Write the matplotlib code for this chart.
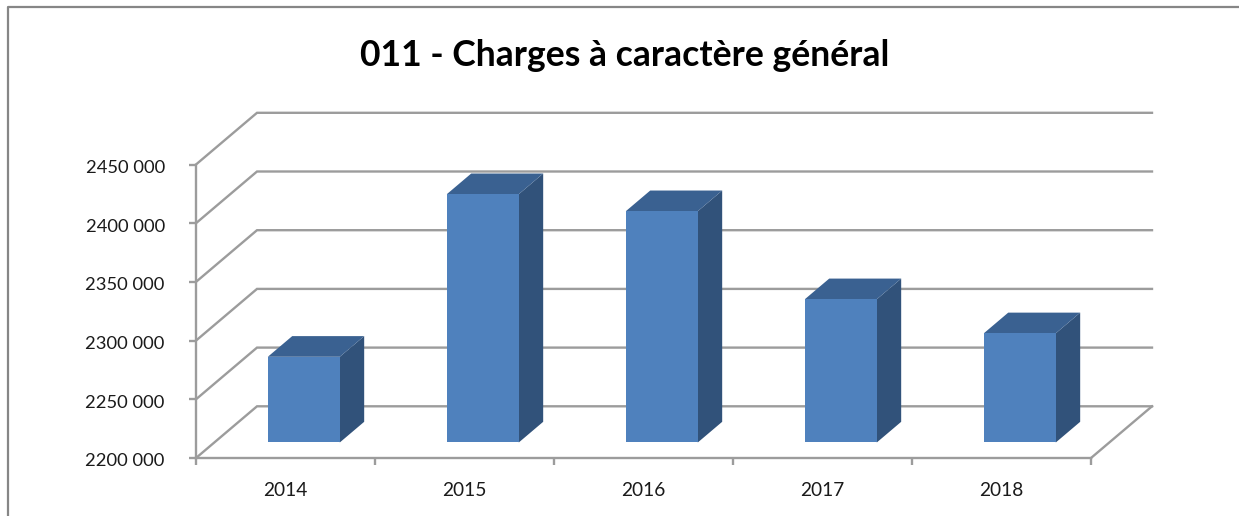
import matplotlib
matplotlib.use("Agg")
import matplotlib.pyplot as plt
from matplotlib.lines import Line2D
from matplotlib.patches import Polygon
from matplotlib.transforms import ScaledTranslation

title = "011 - Charges à caractère général"
years = ["2014", "2015", "2016", "2017", "2018"]
values = [2273000, 2411500, 2397000, 2322000, 2293000]
y_ticks = [2200000, 2250000, 2300000, 2350000, 2400000, 2450000]
y_labels = ["2200 000", "2250 000", "2300 000", "2350 000", "2400 000", "2450 000"]

W, H = 1239, 516
GRID = "#9c9c9c"
FRAME = "#868686"
FRONT = "#4f81bd"
SIDE = "#31527a"
TOP = "#3a6191"

fig = plt.figure(figsize=(W / 100, H / 100), dpi=100, facecolor="white")
ax = fig.add_axes([196 / W, (H - 458) / H, 895 / W, 293.5 / H])
ax.set_xlim(0, len(years))
ax.set_ylim(y_ticks[0], y_ticks[-1])
ax.patch.set_visible(False)

DX = 61 / 179.0
DY = 51.7 / 58.7 * 50000


def proj(x, y, d):
    return (x + d * DX, y + d * DY)


# walls and floor
n = len(years)
base = y_ticks[0]
LW = 1.7
for v in y_ticks:
    ax.plot(*zip(proj(0, v, 0), proj(0, v, 1), proj(n, v, 1)),
            color=GRID, lw=LW, clip_on=False, zorder=1, solid_joinstyle="miter")
ax.plot(*zip(proj(n, base, 0), proj(n, base, 1)), color=GRID, lw=LW, clip_on=False, zorder=1)

# 3-D bars
D0, D1 = 0.30, 0.70
BW = 0.402
for i, v in enumerate(values):
    l, r = i + 0.5 - BW / 2, i + 0.5 + BW / 2
    ax.add_patch(Polygon([proj(r, base, D0), proj(r, base, D1), proj(r, v, D1), proj(r, v, D0)],
                         fc=SIDE, ec="none", clip_on=False, zorder=3))
    ax.add_patch(Polygon([proj(l, v, D0), proj(r, v, D0), proj(r, v, D1), proj(l, v, D1)],
                         fc=TOP, ec="none", clip_on=False, zorder=3))
    ax.add_patch(Polygon([proj(l, base, D0), proj(r, base, D0), proj(r, v, D0), proj(l, v, D0)],
                         fc=FRONT, ec="none", clip_on=False, zorder=4))

for s in ("top", "right"):
    ax.spines[s].set_visible(False)
for s in ("left", "bottom"):
    ax.spines[s].set_color(GRID)
    ax.spines[s].set_linewidth(LW)

ax.set_yticks(y_ticks)
ax.set_yticklabels(y_labels, family="Lato", fontsize=13.2, color="#1a1a1a")
ax.set_xticks(range(n + 1))
ax.set_xticklabels([])
ax.set_xticks([i + 0.5 for i in range(n)], minor=True)
ax.set_xticklabels(years, minor=True, family="Lato", fontsize=13.8, color="#1a1a1a")
ax.tick_params(axis="both", which="major", length=5, width=LW, color=GRID)
ax.tick_params(axis="y", pad=17.5)
ax.tick_params(axis="x", which="minor", length=0, pad=17)

shift = ScaledTranslation(0, -2 / 100, fig.dpi_scale_trans)
for lab in ax.get_yticklabels():
    lab.set_transform(lab.get_transform() + shift)

# chart frame
fig.add_artist(Line2D([8 / W, 8 / W, 1], [0, (H - 7) / H, (H - 7) / H], color=FRAME, lw=1.6))
fig.text(625 / W, (H - 55) / H, title, family="Lato", weight="bold", fontsize=25.6,
         ha="center", va="center", color="black")

fig.savefig("out.png", dpi=100, facecolor="white")
